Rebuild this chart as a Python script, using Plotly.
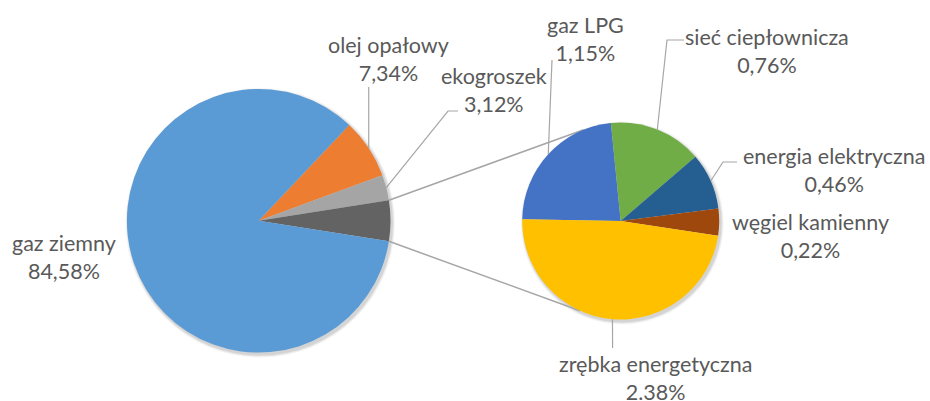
import math
import plotly.graph_objects as go

W, H = 930, 401

# ---------------- data ----------------
main_labels = ["olej opałowy", "ekogroszek", "pozostałe", "gaz ziemny"]
main_values = [7.34, 3.12, 4.97, 84.58]
main_pct_text = ["7,34%", "3,12%", "", "84,58%"]
main_colors = ["#ED7D31", "#A5A5A5", "#636363", "#5B9BD5"]

sub_labels = ["gaz LPG", "sieć ciepłownicza", "energia elektryczna", "węgiel kamienny", "zrębka energetyczna"]
sub_values = [1.15, 0.76, 0.46, 0.22, 2.38]
sub_pct_text = ["1,15%", "0,76%", "0,46%", "0,22%", "2.38%"]
sub_colors = ["#4472C4", "#70AD47", "#255E91", "#9E480E", "#FFC000"]

# ---------------- geometry (pixels) ----------------
MAIN_C, MAIN_R = (258.7, 220.8), 131.8
SUB_C, SUB_R = (620.7, 221.0), 98.5
SUB_START = 179.0            # math angle where the secondary pie starts (clockwise)
SUB_TOP_ANCHOR, SUB_BOT_ANCHOR = 112.1, 245.6
TEXT_COLOR = "#595959"
LINE_COLOR = "#A6A6A6"


def fx(px):
    return px / W


def fy(py):
    return 1 - py / H


def slice_mid_angles(values, start):
    tot = sum(values)
    out, a = [], start
    for v in values:
        d = 360 * v / tot
        out.append(a - d / 2)
        a -= d
    return out


def on_circle(c, r, ang):
    return (c[0] + r * math.cos(math.radians(ang)), c[1] - r * math.sin(math.radians(ang)))


tot_main = sum(main_values)
half_other = 360 * main_values[2] / tot_main / 2
main_start = half_other + 360 * (main_values[0] + main_values[1]) / tot_main

fig = go.Figure()
fig.add_trace(go.Pie(
    labels=main_labels, values=main_values, sort=False, direction="clockwise",
    rotation=90 - main_start, marker=dict(colors=main_colors, line=dict(width=0)),
    textinfo="none", hoverinfo="skip", showlegend=False,
    domain=dict(x=[fx(MAIN_C[0] - MAIN_R), fx(MAIN_C[0] + MAIN_R)],
                y=[fy(MAIN_C[1] + MAIN_R), fy(MAIN_C[1] - MAIN_R)]),
))
fig.add_trace(go.Pie(
    labels=sub_labels, values=sub_values, sort=False, direction="clockwise",
    rotation=90 - SUB_START, marker=dict(colors=sub_colors, line=dict(width=0)),
    textinfo="none", hoverinfo="skip", showlegend=False,
    domain=dict(x=[fx(SUB_C[0] - SUB_R), fx(SUB_C[0] + SUB_R)],
                y=[fy(SUB_C[1] + SUB_R), fy(SUB_C[1] - SUB_R)]),
))

shapes = []
# soft drop shadow behind both pies
for c, r in [(MAIN_C, MAIN_R), (SUB_C, SUB_R)]:
    for k, op in [(3.0, 0.04), (2.0, 0.06), (1.0, 0.08)]:
        sx, sy = c[0] + 1.5, c[1] + 2.0
        shapes.append(dict(type="circle", xref="paper", yref="paper",
                           x0=fx(sx - r - k), x1=fx(sx + r + k),
                           y0=fy(sy + r + k), y1=fy(sy - r - k),
                           fillcolor=f"rgba(0,0,0,{op})", line=dict(width=0), layer="below"))

# connector lines between the "other" slice and the secondary pie
p1 = on_circle(MAIN_C, MAIN_R, half_other)
p2 = on_circle(MAIN_C, MAIN_R, -half_other)
q1 = on_circle(SUB_C, SUB_R, SUB_TOP_ANCHOR)
q2 = on_circle(SUB_C, SUB_R, SUB_BOT_ANCHOR)
for a, b in [(p1, q1), (p2, q2)]:
    shapes.append(dict(type="line", xref="paper", yref="paper",
                       x0=fx(a[0]), y0=fy(a[1]), x1=fx(b[0]), y1=fy(b[1]),
                       line=dict(color=LINE_COLOR, width=1.5), layer="below"))

main_mid = slice_mid_angles(main_values, main_start)
sub_mid = slice_mid_angles(sub_values, SUB_START)

# label layout: (label center px, leader path points px after the slice-edge point)
main_label_pos = {
    0: ((388, 59), [(368.7, 87)]),
    1: ((494, 90), [(448, 111), (458, 111)]),
    3: ((64, 257), None),
}
sub_label_pos = {
    0: ((585, 39), [(552, 60)]),
    1: ((766.5, 51), [(667, 40), (684, 40)]),
    2: ((834.5, 170), [(723, 162), (737, 162)]),
    3: ((810, 236), None),
    4: ((655, 378), [(612.6, 348)]),
}

annotations = []


def add_label(text, pos, leader, c, r, ang):
    annotations.append(dict(text=text, x=fx(pos[0]), y=fy(pos[1]), xref="paper", yref="paper",
                            xanchor="center", yanchor="middle", showarrow=False, align="center",
                            font=dict(family="Lato", size=21.5, weight=400, color=TEXT_COLOR)))
    if leader:
        start = on_circle(c, r, ang)
        pts = [start] + leader
        path = "M " + " L ".join(f"{fx(p[0])},{fy(p[1])}" for p in pts)
        shapes.append(dict(type="path", xref="paper", yref="paper", path=path,
                           line=dict(color=LINE_COLOR, width=1.2)))


for i, (pos, leader) in main_label_pos.items():
    add_label(f"{main_labels[i]}<br>{main_pct_text[i]}", pos, leader, MAIN_C, MAIN_R, main_mid[i])
for i, (pos, leader) in sub_label_pos.items():
    add_label(f"{sub_labels[i]}<br>{sub_pct_text[i]}", pos, leader, SUB_C, SUB_R, sub_mid[i])

fig.update_layout(width=W, height=H, margin=dict(l=0, r=0, t=0, b=0),
                  paper_bgcolor="white", plot_bgcolor="white",
                  shapes=shapes, annotations=annotations, showlegend=False)
fig.write_html("out.html", config={"displayModeBar": False},
               post_script="document.body.style.margin='0';document.body.style.overflow='hidden';")
